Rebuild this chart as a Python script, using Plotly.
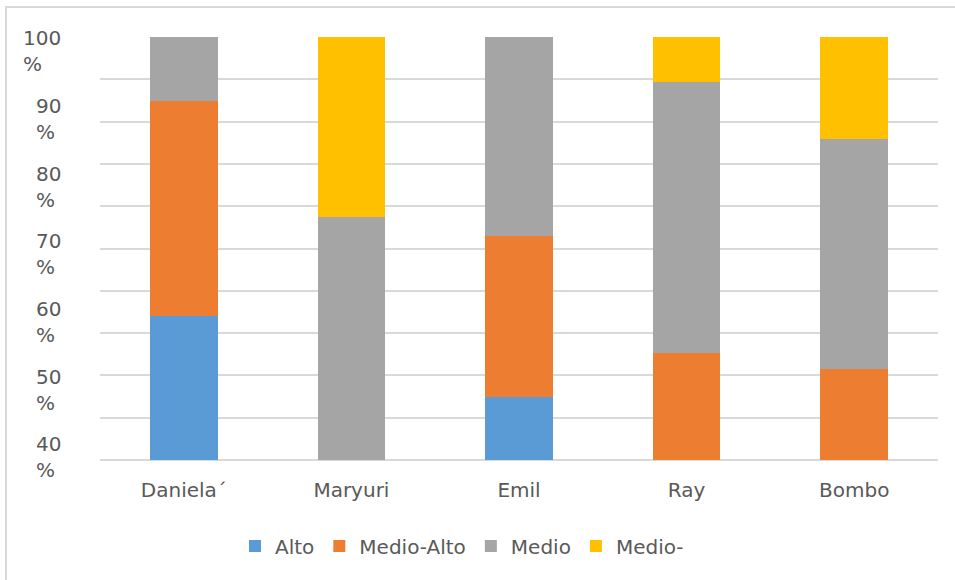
import plotly.graph_objects as go

categories = ["Daniela´", "Maryuri", "Emil", "Ray", "Bombo"]
series_names = ["Alto", "Medio-Alto", "Medio", "Medio-"]
alto = [34.1, 0, 14.8, 0, 0]
medio_alto = [50.8, 0, 38.2, 25.3, 21.6]
medio = [15.1, 57.4, 47.0, 64.1, 54.3]
medio_menos = [0, 42.6, 0, 10.6, 24.1]
series_values = [alto, medio_alto, medio, medio_menos]
colors = ["#5B9BD5", "#ED7D31", "#A5A5A5", "#FFC000"]
y_tick_labels = ["100 %", "90 %", "80 %", "70 %", "60 %", "50 %", "40 %"]

FONT = "DejaVu Sans"
TXT = "#595959"
GRID = "#D9D9D9"

fig = go.Figure()
for name, vals, col in zip(series_names, series_values, colors):
    fig.add_trace(go.Bar(
        x=categories, y=vals, name=name,
        marker=dict(color=col, line=dict(width=0)),
    ))

W, H = 955, 580
ml, mr, mt, mb = 100, 17, 37, 120
pw, ph = W - ml - mr, H - mt - mb

def px_x(x):
    return (x - ml) / pw

def px_y(y):
    return (H - mb - y) / ph

# y labels (wrapped text, as in the source chart)
annotations = []
first_center = 96.6
step = 16.0
for i, lab in enumerate(y_tick_labels):
    num, pct = lab.split(" ")
    annotations.append(dict(
        text=f"{num}<br>{pct}", x=px_x(63), xref="paper",
        y=first_center - i * step, yref="y",
        xanchor="right", yanchor="middle", align="left",
        showarrow=False, font=dict(family=FONT, size=20, color=TXT),
    ))

fig.update_layout(
    width=W, height=H,
    margin=dict(l=ml, r=mr, t=mt, b=mb),
    paper_bgcolor="white", plot_bgcolor="white",
    barmode="stack", bargap=0.596,
    font=dict(family=FONT, size=20, color=TXT),
    xaxis=dict(
        showgrid=False, showline=False, zeroline=False,
        ticks="outside", ticklen=12, tickcolor="rgba(0,0,0,0)",
        tickfont=dict(family=FONT, size=20, color=TXT),
    ),
    yaxis=dict(
        range=[0, 100], dtick=10, showticklabels=False,
        showgrid=True, gridcolor=GRID, gridwidth=1.5,
        zeroline=True, zerolinecolor=GRID, zerolinewidth=1.5,
        showline=False,
    ),
    showlegend=True,
    legend=dict(
        orientation="h", xref="paper", x=px_x(235), xanchor="left",
        y=px_y(546), yanchor="middle",
        font=dict(family=FONT, size=20, color=TXT),
        traceorder="normal",
    ),
    annotations=annotations,
    shapes=[dict(
        type="rect", xref="paper", yref="paper",
        x0=px_x(6), x1=px_x(W + 20), y0=px_y(7), y1=px_y(H + 20),
        line=dict(color=GRID, width=2), fillcolor="rgba(0,0,0,0)",
        layer="below",
    )],
)

fig.write_html("out.html")
